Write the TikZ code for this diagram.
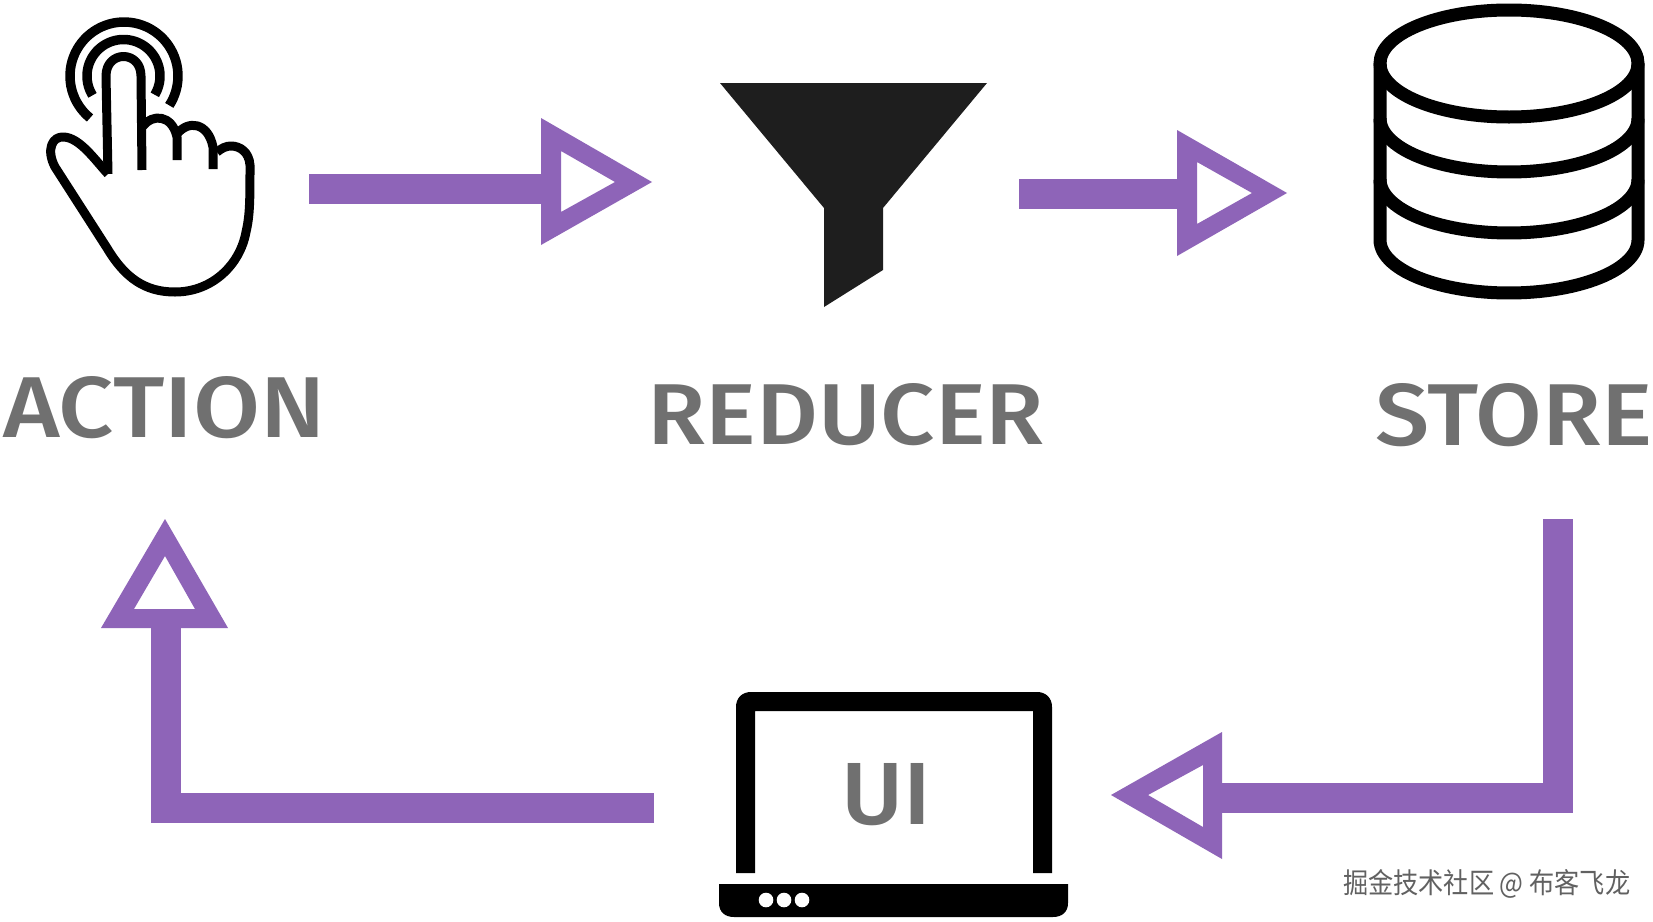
\documentclass[tikz,border=0pt]{standalone}
\usepackage{fontspec}
\newfontfamily\labelfont{Fira Sans Medium}
\newfontfamily\cjkfont{Noto Sans CJK SC}
\definecolor{flowpurple}{HTML}{8E64B8}
\definecolor{labelgray}{HTML}{707070}
\definecolor{funnelblack}{HTML}{1E1E1E}
\tikzset{
  flow/.style={draw=flowpurple,line width=30pt,line join=miter},
  headfill/.style={fill=flowpurple,even odd rule},
  handline/.style={draw=black,line width=9pt,line join=round},
  ringline/.style={draw=black,line width=9.5pt},
  dbline/.style={draw=black,line width=13pt},
  lbl/.style={anchor=base west,inner sep=0pt,text=labelgray},
}
\newcommand{\lbltext}[3]{\resizebox{#1pt}{#2pt}{\labelfont #3}}
\begin{document}
\begin{tikzpicture}[x=1pt,y=-1pt]
\useasboundingbox (0,0) rectangle (1653,921);
\fill[white] (0,0) rectangle (1653,921);

% hand icon
\draw[handline] (108,174) .. controls (95,160) and (80,138) .. (64,137)
  .. controls (52,136) and (46,150) .. (55,167) -- (107,248)
  .. controls (125,278) and (145,292) .. (175,292)
  .. controls (212,292) and (240,265) .. (246,232)
  .. controls (250,215) and (250,200) .. (250,165)
  .. controls (249,152) and (240,146) .. (231,146)
  .. controls (226,146) and (222,148) .. (217,152);
\draw[handline] (108,174) -- (106,76) .. controls (106,50) and (141,50) .. (141,76) -- (142,170);
\draw[handline] (143,126) .. controls (152,114) and (172,114) .. (177,137) -- (177,160);
\draw[handline] (177,134) .. controls (188,120) and (208,122) .. (213,147) -- (213,169);
\draw[ringline] plot[domain=129:393,samples=60] ({124+54*cos(\x)},{76+54*sin(\x)});
\draw[ringline] plot[domain=148:391,samples=60] ({123.5+36.5*cos(\x)},{76+36.5*sin(\x)});

% funnel
\fill[funnelblack] (720,83) -- (987,83) -- (883,208) -- (883,270) -- (824,307) -- (824,208) -- cycle;

% database
\draw[dbline] (1509,63.5) ellipse [x radius=129,y radius=53.5];
\draw[dbline] plot[domain=0:180,samples=60] ({1509+129*cos(\x)},{118.5+53.5*sin(\x)});
\draw[dbline] plot[domain=0:180,samples=60] ({1509+129*cos(\x)},{179.5+53.5*sin(\x)});
\draw[dbline] (1380,63.5) -- (1380,240) plot[domain=180:0,samples=60] ({1509+129*cos(\x)},{240+53*sin(\x)}) -- (1638,63.5);

% laptop
\fill[black,even odd rule] (736,873) -- (736,707) .. controls (736,698) and (742,692) .. (751,692)
  -- (1037,692) .. controls (1046,692) and (1052,698) .. (1052,707) -- (1052,873) -- (1033,873)
  -- (1033,711) -- (755,711) -- (755,873) -- cycle;
\fill[black] (719,884) -- (1068,884) -- (1068,903) .. controls (1068,912) and (1062,917) .. (1053,917)
  -- (734,917) .. controls (725,917) and (719,912) .. (719,903) -- cycle;
\fill[white] (766,900) circle [radius=7.3] (784,900) circle [radius=7.3] (802,900) circle [radius=7.3];

% labels
\node[lbl] (action) at (3,437) {\lbltext{322}{61}{ACTION}};
\node[lbl] (reducer) at (647,444) {\lbltext{397}{61}{REDUCER}};
\node[lbl] (store) at (1375,445) {\lbltext{277}{62}{STORE}};
\node[lbl] (ui) at (841,824) {\lbltext{90}{61}{UI}};
\node[anchor=south west,inner sep=0pt,text=black!62] (mark) at (1343,899)
  {\resizebox{287pt}{24pt}{\cjkfont 掘金技术社区 @ 布客飞龙}};

% connector ends
\coordinate (a1s) at (309,189);
\coordinate (a1e) at (545,189);
\coordinate (a2s) at (1019,193.5);
\coordinate (a2e) at (1181,193.5);
\coordinate (a3s) at (1557.5,519);
\coordinate (a3e) at (1218,797.5);
\coordinate (a4s) at (654,807.5);
\coordinate (a4e) at (165.5,623);

% connectors
\draw[flow] (a1s) -- (a1e);
\path[headfill] (541,118) -- (652,182) -- (541,245) -- cycle (561,151) -- (615,182) -- (561,212) -- cycle;
\draw[flow] (a2s) -- (a2e);
\path[headfill] (1177,130) -- (1287,193) -- (1177,256) -- cycle (1197,162) -- (1252,193) -- (1197,224) -- cycle;
\draw[flow] (a3s) |- (a3e);
\path[headfill] (1222,732) -- (1111,795) -- (1222,859) -- cycle (1203,765) -- (1148,795) -- (1203,827) -- cycle;
\draw[flow] (a4s) -| (a4e);
\path[headfill] (101,628) -- (165,519) -- (228,628) -- cycle (134,609) -- (165,556) -- (195,609) -- cycle;
\end{tikzpicture}
\end{document}
